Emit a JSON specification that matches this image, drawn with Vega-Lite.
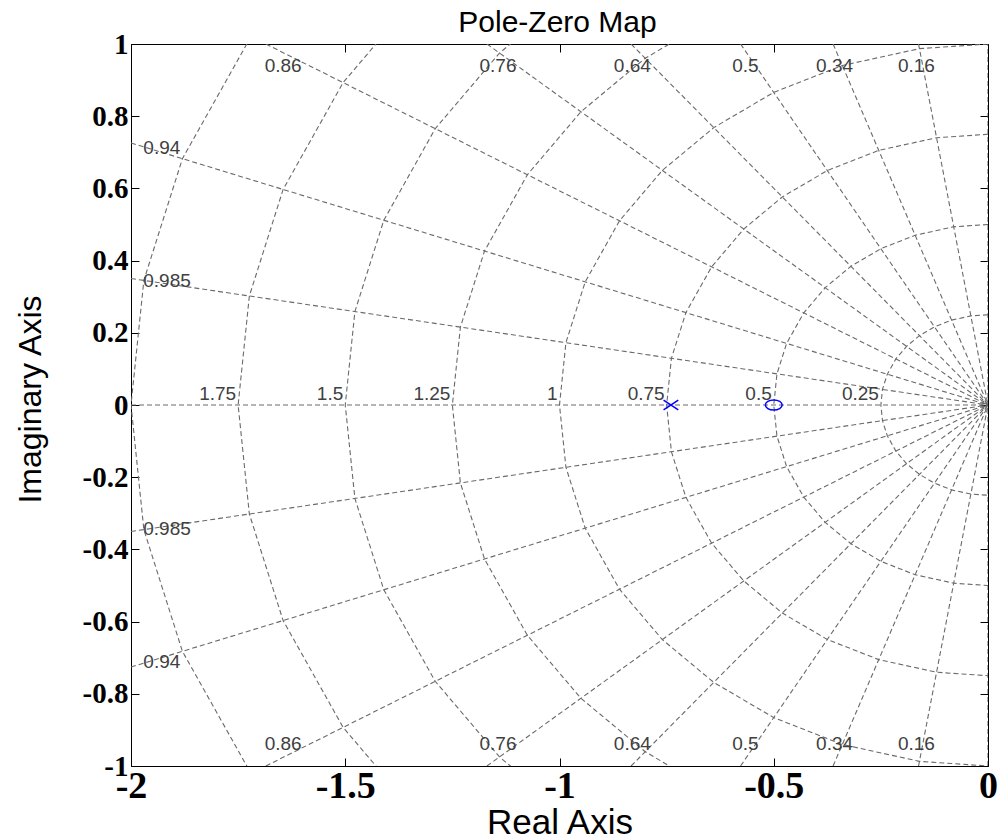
{
  "$schema": "https://vega.github.io/schema/vega-lite/v6.json",
  "width": 857,
  "height": 722,
  "autosize": "none",
  "padding": {"left": 131, "top": 44, "right": 10, "bottom": 74},
  "background": "white",
  "config": {"view": {"stroke": null}},
  "datasets": {
    "rays": [
      {"ray": "0.16u", "re": 0, "im": 0}, {"ray": "0.16u", "re": -0.1621, "im": 1},
      {"ray": "0.16l", "re": 0, "im": 0}, {"ray": "0.16l", "re": -0.1621, "im": -1},
      {"ray": "0.34u", "re": 0, "im": 0}, {"ray": "0.34u", "re": -0.3615, "im": 1},
      {"ray": "0.34l", "re": 0, "im": 0}, {"ray": "0.34l", "re": -0.3615, "im": -1},
      {"ray": "0.5u", "re": 0, "im": 0}, {"ray": "0.5u", "re": -0.5774, "im": 1},
      {"ray": "0.5l", "re": 0, "im": 0}, {"ray": "0.5l", "re": -0.5774, "im": -1},
      {"ray": "0.64u", "re": 0, "im": 0}, {"ray": "0.64u", "re": -0.8329, "im": 1},
      {"ray": "0.64l", "re": 0, "im": 0}, {"ray": "0.64l", "re": -0.8329, "im": -1},
      {"ray": "0.76u", "re": 0, "im": 0}, {"ray": "0.76u", "re": -1.1694, "im": 1},
      {"ray": "0.76l", "re": 0, "im": 0}, {"ray": "0.76l", "re": -1.1694, "im": -1},
      {"ray": "0.86u", "re": 0, "im": 0}, {"ray": "0.86u", "re": -1.6853, "im": 1},
      {"ray": "0.86l", "re": 0, "im": 0}, {"ray": "0.86l", "re": -1.6853, "im": -1},
      {"ray": "0.94u", "re": 0, "im": 0}, {"ray": "0.94u", "re": -2, "im": 0.7259},
      {"ray": "0.94l", "re": 0, "im": 0}, {"ray": "0.94l", "re": -2, "im": -0.7259},
      {"ray": "0.985u", "re": 0, "im": 0}, {"ray": "0.985u", "re": -2, "im": 0.3504},
      {"ray": "0.985l", "re": 0, "im": 0}, {"ray": "0.985l", "re": -2, "im": -0.3504},
      {"ray": "1", "re": 0, "im": 0}, {"ray": "1", "re": -2, "im": 0},
      {"ray": "0", "re": 0, "im": -1}, {"ray": "0", "re": 0, "im": 1}
    ],
    "circles": [
      {"wn": 0.25, "k": 0, "re": 0, "im": 0.25}, {"wn": 0.25, "k": 1, "re": -0.04, "im": 0.2468}, {"wn": 0.25, "k": 2, "re": -0.085, "im": 0.2351}, {"wn": 0.25, "k": 3, "re": -0.125, "im": 0.2165}, {"wn": 0.25, "k": 4, "re": -0.16, "im": 0.1921}, {"wn": 0.25, "k": 5, "re": -0.19, "im": 0.1625}, {"wn": 0.25, "k": 6, "re": -0.215, "im": 0.1276}, {"wn": 0.25, "k": 7, "re": -0.235, "im": 0.0853}, {"wn": 0.25, "k": 8, "re": -0.2463, "im": 0.0431}, {"wn": 0.25, "k": 9, "re": -0.25, "im": 0},
      {"wn": 0.25, "k": 10, "re": -0.2463, "im": -0.0431}, {"wn": 0.25, "k": 11, "re": -0.235, "im": -0.0853}, {"wn": 0.25, "k": 12, "re": -0.215, "im": -0.1276}, {"wn": 0.25, "k": 13, "re": -0.19, "im": -0.1625}, {"wn": 0.25, "k": 14, "re": -0.16, "im": -0.1921}, {"wn": 0.25, "k": 15, "re": -0.125, "im": -0.2165}, {"wn": 0.25, "k": 16, "re": -0.085, "im": -0.2351}, {"wn": 0.25, "k": 17, "re": -0.04, "im": -0.2468}, {"wn": 0.25, "k": 18, "re": 0, "im": -0.25},

      {"wn": 0.5, "k": 0, "re": 0, "im": 0.5}, {"wn": 0.5, "k": 1, "re": -0.08, "im": 0.4936}, {"wn": 0.5, "k": 2, "re": -0.17, "im": 0.4702}, {"wn": 0.5, "k": 3, "re": -0.25, "im": 0.433}, {"wn": 0.5, "k": 4, "re": -0.32, "im": 0.3842}, {"wn": 0.5, "k": 5, "re": -0.38, "im": 0.325}, {"wn": 0.5, "k": 6, "re": -0.43, "im": 0.2551}, {"wn": 0.5, "k": 7, "re": -0.47, "im": 0.1706}, {"wn": 0.5, "k": 8, "re": -0.4925, "im": 0.0863}, {"wn": 0.5, "k": 9, "re": -0.5, "im": 0},
      {"wn": 0.5, "k": 10, "re": -0.4925, "im": -0.0863}, {"wn": 0.5, "k": 11, "re": -0.47, "im": -0.1706}, {"wn": 0.5, "k": 12, "re": -0.43, "im": -0.2551}, {"wn": 0.5, "k": 13, "re": -0.38, "im": -0.325}, {"wn": 0.5, "k": 14, "re": -0.32, "im": -0.3842}, {"wn": 0.5, "k": 15, "re": -0.25, "im": -0.433}, {"wn": 0.5, "k": 16, "re": -0.17, "im": -0.4702}, {"wn": 0.5, "k": 17, "re": -0.08, "im": -0.4936}, {"wn": 0.5, "k": 18, "re": 0, "im": -0.5},

      {"wn": 0.75, "k": 0, "re": 0, "im": 0.75}, {"wn": 0.75, "k": 1, "re": -0.12, "im": 0.7403}, {"wn": 0.75, "k": 2, "re": -0.255, "im": 0.7053}, {"wn": 0.75, "k": 3, "re": -0.375, "im": 0.6495}, {"wn": 0.75, "k": 4, "re": -0.48, "im": 0.5763}, {"wn": 0.75, "k": 5, "re": -0.57, "im": 0.4874}, {"wn": 0.75, "k": 6, "re": -0.645, "im": 0.3827}, {"wn": 0.75, "k": 7, "re": -0.705, "im": 0.2559}, {"wn": 0.75, "k": 8, "re": -0.7388, "im": 0.1294}, {"wn": 0.75, "k": 9, "re": -0.75, "im": 0},
      {"wn": 0.75, "k": 10, "re": -0.7388, "im": -0.1294}, {"wn": 0.75, "k": 11, "re": -0.705, "im": -0.2559}, {"wn": 0.75, "k": 12, "re": -0.645, "im": -0.3827}, {"wn": 0.75, "k": 13, "re": -0.57, "im": -0.4874}, {"wn": 0.75, "k": 14, "re": -0.48, "im": -0.5763}, {"wn": 0.75, "k": 15, "re": -0.375, "im": -0.6495}, {"wn": 0.75, "k": 16, "re": -0.255, "im": -0.7053}, {"wn": 0.75, "k": 17, "re": -0.12, "im": -0.7403}, {"wn": 0.75, "k": 18, "re": 0, "im": -0.75},

      {"wn": 1, "k": 0, "re": 0, "im": 1}, {"wn": 1, "k": 1, "re": -0.16, "im": 0.9871}, {"wn": 1, "k": 2, "re": -0.34, "im": 0.9404}, {"wn": 1, "k": 3, "re": -0.5, "im": 0.866}, {"wn": 1, "k": 4, "re": -0.64, "im": 0.7684}, {"wn": 1, "k": 5, "re": -0.76, "im": 0.6499}, {"wn": 1, "k": 6, "re": -0.86, "im": 0.5103}, {"wn": 1, "k": 7, "re": -0.94, "im": 0.3412}, {"wn": 1, "k": 8, "re": -0.985, "im": 0.1726}, {"wn": 1, "k": 9, "re": -1, "im": 0},
      {"wn": 1, "k": 10, "re": -0.985, "im": -0.1726}, {"wn": 1, "k": 11, "re": -0.94, "im": -0.3412}, {"wn": 1, "k": 12, "re": -0.86, "im": -0.5103}, {"wn": 1, "k": 13, "re": -0.76, "im": -0.6499}, {"wn": 1, "k": 14, "re": -0.64, "im": -0.7684}, {"wn": 1, "k": 15, "re": -0.5, "im": -0.866}, {"wn": 1, "k": 16, "re": -0.34, "im": -0.9404}, {"wn": 1, "k": 17, "re": -0.16, "im": -0.9871}, {"wn": 1, "k": 18, "re": 0, "im": -1},

      {"wn": 1.25, "k": 0, "re": 0, "im": 1.25}, {"wn": 1.25, "k": 1, "re": -0.2, "im": 1.2339}, {"wn": 1.25, "k": 2, "re": -0.425, "im": 1.1755}, {"wn": 1.25, "k": 3, "re": -0.625, "im": 1.0825}, {"wn": 1.25, "k": 4, "re": -0.8, "im": 0.9605}, {"wn": 1.25, "k": 5, "re": -0.95, "im": 0.8124}, {"wn": 1.25, "k": 6, "re": -1.075, "im": 0.6379}, {"wn": 1.25, "k": 7, "re": -1.175, "im": 0.4265}, {"wn": 1.25, "k": 8, "re": -1.2313, "im": 0.2157}, {"wn": 1.25, "k": 9, "re": -1.25, "im": 0},
      {"wn": 1.25, "k": 10, "re": -1.2313, "im": -0.2157}, {"wn": 1.25, "k": 11, "re": -1.175, "im": -0.4265}, {"wn": 1.25, "k": 12, "re": -1.075, "im": -0.6379}, {"wn": 1.25, "k": 13, "re": -0.95, "im": -0.8124}, {"wn": 1.25, "k": 14, "re": -0.8, "im": -0.9605}, {"wn": 1.25, "k": 15, "re": -0.625, "im": -1.0825}, {"wn": 1.25, "k": 16, "re": -0.425, "im": -1.1755}, {"wn": 1.25, "k": 17, "re": -0.2, "im": -1.2339}, {"wn": 1.25, "k": 18, "re": 0, "im": -1.25},

      {"wn": 1.5, "k": 0, "re": 0, "im": 1.5}, {"wn": 1.5, "k": 1, "re": -0.24, "im": 1.4807}, {"wn": 1.5, "k": 2, "re": -0.51, "im": 1.4106}, {"wn": 1.5, "k": 3, "re": -0.75, "im": 1.299}, {"wn": 1.5, "k": 4, "re": -0.96, "im": 1.1526}, {"wn": 1.5, "k": 5, "re": -1.14, "im": 0.9749}, {"wn": 1.5, "k": 6, "re": -1.29, "im": 0.7654}, {"wn": 1.5, "k": 7, "re": -1.41, "im": 0.5118}, {"wn": 1.5, "k": 8, "re": -1.4775, "im": 0.2588}, {"wn": 1.5, "k": 9, "re": -1.5, "im": 0},
      {"wn": 1.5, "k": 10, "re": -1.4775, "im": -0.2588}, {"wn": 1.5, "k": 11, "re": -1.41, "im": -0.5118}, {"wn": 1.5, "k": 12, "re": -1.29, "im": -0.7654}, {"wn": 1.5, "k": 13, "re": -1.14, "im": -0.9749}, {"wn": 1.5, "k": 14, "re": -0.96, "im": -1.1526}, {"wn": 1.5, "k": 15, "re": -0.75, "im": -1.299}, {"wn": 1.5, "k": 16, "re": -0.51, "im": -1.4106}, {"wn": 1.5, "k": 17, "re": -0.24, "im": -1.4807}, {"wn": 1.5, "k": 18, "re": 0, "im": -1.5},

      {"wn": 1.75, "k": 0, "re": 0, "im": 1.75}, {"wn": 1.75, "k": 1, "re": -0.28, "im": 1.7275}, {"wn": 1.75, "k": 2, "re": -0.595, "im": 1.6457}, {"wn": 1.75, "k": 3, "re": -0.875, "im": 1.5155}, {"wn": 1.75, "k": 4, "re": -1.12, "im": 1.3447}, {"wn": 1.75, "k": 5, "re": -1.33, "im": 1.1374}, {"wn": 1.75, "k": 6, "re": -1.505, "im": 0.893}, {"wn": 1.75, "k": 7, "re": -1.645, "im": 0.5971}, {"wn": 1.75, "k": 8, "re": -1.7238, "im": 0.302}, {"wn": 1.75, "k": 9, "re": -1.75, "im": 0},
      {"wn": 1.75, "k": 10, "re": -1.7238, "im": -0.302}, {"wn": 1.75, "k": 11, "re": -1.645, "im": -0.5971}, {"wn": 1.75, "k": 12, "re": -1.505, "im": -0.893}, {"wn": 1.75, "k": 13, "re": -1.33, "im": -1.1374}, {"wn": 1.75, "k": 14, "re": -1.12, "im": -1.3447}, {"wn": 1.75, "k": 15, "re": -0.875, "im": -1.5155}, {"wn": 1.75, "k": 16, "re": -0.595, "im": -1.6457}, {"wn": 1.75, "k": 17, "re": -0.28, "im": -1.7275}, {"wn": 1.75, "k": 18, "re": 0, "im": -1.75},

      {"wn": 2, "k": 0, "re": 0, "im": 2}, {"wn": 2, "k": 1, "re": -0.32, "im": 1.9742}, {"wn": 2, "k": 2, "re": -0.68, "im": 1.8809}, {"wn": 2, "k": 3, "re": -1, "im": 1.7321}, {"wn": 2, "k": 4, "re": -1.28, "im": 1.5368}, {"wn": 2, "k": 5, "re": -1.52, "im": 1.2998}, {"wn": 2, "k": 6, "re": -1.72, "im": 1.0206}, {"wn": 2, "k": 7, "re": -1.88, "im": 0.6824}, {"wn": 2, "k": 8, "re": -1.97, "im": 0.3451}, {"wn": 2, "k": 9, "re": -2, "im": 0},
      {"wn": 2, "k": 10, "re": -1.97, "im": -0.3451}, {"wn": 2, "k": 11, "re": -1.88, "im": -0.6824}, {"wn": 2, "k": 12, "re": -1.72, "im": -1.0206}, {"wn": 2, "k": 13, "re": -1.52, "im": -1.2998}, {"wn": 2, "k": 14, "re": -1.28, "im": -1.5368}, {"wn": 2, "k": 15, "re": -1, "im": -1.7321}, {"wn": 2, "k": 16, "re": -0.68, "im": -1.8809}, {"wn": 2, "k": 17, "re": -0.32, "im": -1.9742}, {"wn": 2, "k": 18, "re": 0, "im": -2}
    ],
    "wnLabels": [
      {"wn": "0.25", "re": -0.25, "im": 0}, {"wn": "0.5", "re": -0.5, "im": 0}, {"wn": "0.75", "re": -0.75, "im": 0},
      {"wn": "1", "re": -1, "im": 0}, {"wn": "1.25", "re": -1.25, "im": 0}, {"wn": "1.5", "re": -1.5, "im": 0},
      {"wn": "1.75", "re": -1.75, "im": 0}
    ],
    "zetaLabels": [
      {"zeta": "0.86", "re": -1.645, "im": 0.94}, {"zeta": "0.76", "re": -1.1435, "im": 0.94}, {"zeta": "0.64", "re": -0.83, "im": 0.94},
      {"zeta": "0.5", "re": -0.566, "im": 0.94}, {"zeta": "0.34", "re": -0.358, "im": 0.94}, {"zeta": "0.16", "re": -0.167, "im": 0.94},
      {"zeta": "0.86", "re": -1.645, "im": -0.94}, {"zeta": "0.76", "re": -1.1435, "im": -0.94}, {"zeta": "0.64", "re": -0.83, "im": -0.94},
      {"zeta": "0.5", "re": -0.566, "im": -0.94}, {"zeta": "0.34", "re": -0.358, "im": -0.94}, {"zeta": "0.16", "re": -0.167, "im": -0.94},
      {"zeta": "0.94", "re": -1.928, "im": 0.713}, {"zeta": "0.94", "re": -1.928, "im": -0.713},
      {"zeta": "0.985", "re": -1.916, "im": 0.343}, {"zeta": "0.985", "re": -1.916, "im": -0.343}
    ],
    "pz": [
      {"kind": "pole", "re": -0.74, "im": 0},
      {"kind": "zero", "re": -0.5, "im": 0}
    ]
  },
  "layer": [
    {
      "data": {"name": "rays"},
      "mark": {"type": "line", "clip": true, "color": "#6a6a6a", "strokeWidth": 1.1, "strokeDash": [5, 3]},
      "encoding": {
        "x": {
          "field": "re", "type": "quantitative",
          "scale": {"domain": [-2, 0], "nice": false, "zero": false},
          "axis": {
            "orient": "bottom", "values": [-2, -1.5, -1, -0.5, 0], "labelExpr": "toString(datum.value)",
            "grid": false, "domainColor": "black", "tickColor": "black", "tickSize": -8, "labelPadding": 9,
            "labelFont": "Liberation Serif", "labelFontWeight": "bold", "labelFontSize": 38, "labelColor": "black",
            "labelFlush": false, "labelOverlap": false,
            "title": "Real Axis", "titleFont": "Liberation Sans", "titleFontSize": 35, "titleFontWeight": "normal",
            "titleColor": "black", "titleBaseline": "alphabetic", "titleY": 67
          }
        },
        "y": {
          "field": "im", "type": "quantitative",
          "scale": {"domain": [-1, 1], "nice": false, "zero": false},
          "axis": {
            "orient": "left", "values": [-1, -0.8, -0.6, -0.4, -0.2, 0, 0.2, 0.4, 0.6, 0.8, 1], "labelExpr": "toString(datum.value)",
            "grid": false, "domainColor": "black", "tickColor": "black", "tickSize": -8, "labelPadding": 11,
            "labelFont": "Liberation Serif", "labelFontWeight": "bold", "labelFontSize": 29, "labelColor": "black",
            "labelFlush": false, "labelOverlap": false,
            "title": "Imaginary Axis", "titleFont": "Liberation Sans", "titleFontSize": 32, "titleFontWeight": "normal",
            "titleColor": "black", "titleBaseline": "alphabetic", "titleX": -91, "titleY": 355
          }
        },
        "detail": {"field": "ray"}
      }
    },
    {
      "data": {"name": "circles"},
      "mark": {"type": "line", "clip": true, "color": "#6a6a6a", "strokeWidth": 1.1, "strokeDash": [5, 3]},
      "encoding": {
        "x": {"field": "re", "type": "quantitative", "scale": {"domain": [-2, 0], "nice": false, "zero": false}, "axis": null},
        "y": {"field": "im", "type": "quantitative", "scale": {"domain": [-1, 1], "nice": false, "zero": false}, "axis": null},
        "detail": {"field": "wn"},
        "order": {"field": "k"}
      }
    },
    {
      "data": {"name": "wnLabels"},
      "mark": {"type": "text", "font": "Liberation Sans", "fontSize": 19, "color": "#404040", "align": "right", "baseline": "alphabetic", "dx": -2, "dy": -5},
      "encoding": {
        "x": {"field": "re", "type": "quantitative", "axis": null},
        "y": {"field": "im", "type": "quantitative", "axis": null},
        "text": {"field": "wn"}
      }
    },
    {
      "data": {"name": "zetaLabels"},
      "mark": {"type": "text", "font": "Liberation Sans", "fontSize": 19, "color": "#404040", "align": "center", "baseline": "middle"},
      "encoding": {
        "x": {"field": "re", "type": "quantitative", "axis": null},
        "y": {"field": "im", "type": "quantitative", "axis": null},
        "text": {"field": "zeta"}
      }
    },
    {
      "data": {"name": "pz"},
      "mark": {"type": "point", "filled": false, "color": "#0000ff", "strokeWidth": 1.5, "size": 196, "opacity": 1},
      "encoding": {
        "x": {
          "field": "re", "type": "quantitative",
          "axis": {"orient": "top", "values": [-2, -1.5, -1, -0.5, 0], "labels": false, "grid": false,
                   "domainColor": "black", "tickColor": "black", "tickSize": -8,
                   "title": "Pole-Zero Map", "titleFont": "Liberation Sans", "titleFontSize": 30, "titleFontWeight": "normal",
                   "titleColor": "black", "titleBaseline": "alphabetic", "titleX": 426, "titleY": -13, "titleAlign": "center"}
        },
        "y": {
          "field": "im", "type": "quantitative",
          "axis": {"orient": "right", "values": [-1, -0.8, -0.6, -0.4, -0.2, 0, 0.2, 0.4, 0.6, 0.8, 1], "labels": false, "title": null, "grid": false,
                   "domainColor": "black", "tickColor": "black", "tickSize": -8}
        },
        "shape": {
          "field": "kind", "type": "nominal", "legend": null,
          "scale": {"domain": ["pole", "zero"], "range": ["M -1.05,-0.7 L 1.05,0.7 M -1.05,0.7 L 1.05,-0.7", "M -1.2,0 A 1.2,0.72 0 1,0 1.2,0 A 1.2,0.72 0 1,0 -1.2,0 Z"]}
        }
      }
    }
  ],
  "resolve": {"axis": {"x": "independent", "y": "independent"}}
}
